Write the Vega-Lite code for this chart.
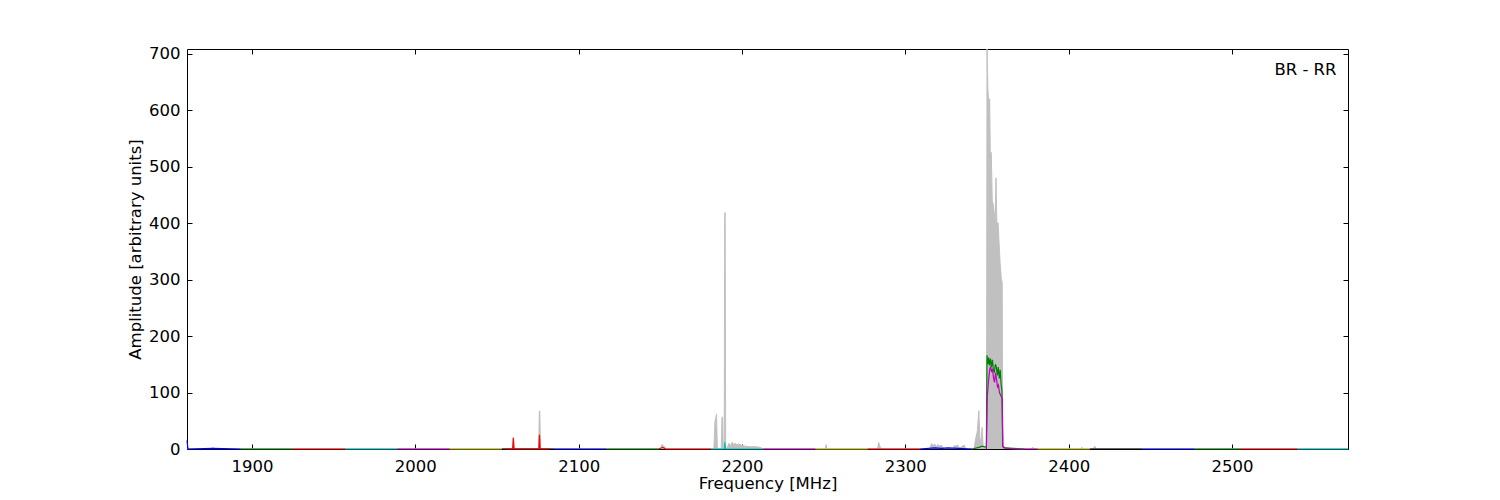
{
  "$schema": "https://vega.github.io/schema/vega-lite/v6.json",
  "autosize": {"type": "none"},
  "padding": {"left": 187, "top": 49, "right": 152, "bottom": 51},
  "width": 1161,
  "height": 400,
  "background": "white",
  "config": {
    "view": {"stroke": "black", "strokeWidth": 1},
    "font": "DejaVu Sans",
    "axis": {
      "labelFont": "DejaVu Sans", "titleFont": "DejaVu Sans",
      "labelFontSize": 16.5, "titleFontSize": 16.5, "titleFontWeight": "normal",
      "labelColor": "black", "titleColor": "black", "tickColor": "black",
      "grid": false, "domain": false, "format": "d"
    }
  },
  "datasets": {
    "env": [
      {"f": 1860.2, "a": 0}, {"f": 1875.5, "a": 0}, {"f": 1876, "a": 3}, {"f": 1876.5, "a": 0},
      {"f": 2059.5, "a": 0}, {"f": 2060, "a": 20}, {"f": 2060.5, "a": 0},
      {"f": 2075.5, "a": 0}, {"f": 2075.9, "a": 67}, {"f": 2076.2, "a": 67}, {"f": 2076.6, "a": 0},
      {"f": 2150, "a": 0}, {"f": 2151, "a": 8}, {"f": 2152, "a": 5}, {"f": 2153, "a": 3}, {"f": 2154, "a": 0},
      {"f": 2182.8, "a": 0}, {"f": 2183.4, "a": 48}, {"f": 2183.9, "a": 55}, {"f": 2184.4, "a": 62}, {"f": 2184.9, "a": 0},
      {"f": 2187.3, "a": 0}, {"f": 2187.7, "a": 55}, {"f": 2188.1, "a": 57}, {"f": 2188.5, "a": 0}, {"f": 2189.1, "a": 0}, {"f": 2189.4, "a": 418}, {"f": 2189.7, "a": 418}, {"f": 2190.0, "a": 0},
      {"f": 2191, "a": 3}, {"f": 2192, "a": 10}, {"f": 2193, "a": 6}, {"f": 2194, "a": 12}, {"f": 2195, "a": 8}, {"f": 2196, "a": 10}, {"f": 2197, "a": 7}, {"f": 2198, "a": 9}, {"f": 2200, "a": 6}, {"f": 2202, "a": 5}, {"f": 2205, "a": 4}, {"f": 2208, "a": 4}, {"f": 2211, "a": 3}, {"f": 2213, "a": 0},
      {"f": 2251, "a": 0}, {"f": 2251.5, "a": 8}, {"f": 2252, "a": 0},
      {"f": 2283, "a": 0}, {"f": 2283.6, "a": 12}, {"f": 2284.5, "a": 4}, {"f": 2285.5, "a": 0},
      {"f": 2315, "a": 0}, {"f": 2316, "a": 10}, {"f": 2317, "a": 6}, {"f": 2318, "a": 9}, {"f": 2319, "a": 4}, {"f": 2320, "a": 8}, {"f": 2321, "a": 5}, {"f": 2322, "a": 7}, {"f": 2323, "a": 3}, {"f": 2324, "a": 0},
      {"f": 2329, "a": 0}, {"f": 2330, "a": 6}, {"f": 2331, "a": 5}, {"f": 2332, "a": 7}, {"f": 2333, "a": 2}, {"f": 2334, "a": 3}, {"f": 2336, "a": 7}, {"f": 2337, "a": 0},
      {"f": 2342, "a": 0}, {"f": 2343, "a": 18}, {"f": 2344, "a": 30}, {"f": 2345, "a": 68}, {"f": 2345.6, "a": 20}, {"f": 2346.3, "a": 10}, {"f": 2347, "a": 38}, {"f": 2347.6, "a": 5}, {"f": 2348.5, "a": 3}, {"f": 2349.7, "a": 0},
      {"f": 2350.0, "a": 708}, {"f": 2350.5, "a": 640}, {"f": 2351.2, "a": 600}, {"f": 2351.6, "a": 620}, {"f": 2352.0, "a": 525}, {"f": 2352.6, "a": 525}, {"f": 2353.2, "a": 440}, {"f": 2354.0, "a": 430}, {"f": 2355.0, "a": 400}, {"f": 2355.5, "a": 480}, {"f": 2356.0, "a": 400}, {"f": 2356.8, "a": 400}, {"f": 2357.2, "a": 375}, {"f": 2358.0, "a": 330}, {"f": 2358.8, "a": 300}, {"f": 2359.3, "a": 295}, {"f": 2359.6, "a": 5}, {"f": 2361, "a": 3}, {"f": 2362, "a": 0},
      {"f": 2377, "a": 0}, {"f": 2378, "a": 3}, {"f": 2379, "a": 0},
      {"f": 2407, "a": 0}, {"f": 2408, "a": 3}, {"f": 2409, "a": 0},
      {"f": 2415, "a": 0}, {"f": 2416, "a": 5}, {"f": 2417, "a": 0},
      {"f": 2571, "a": 0}
    ],
    "lines": [
      {"s": "b1", "f": 1860.2, "a": 15}, {"s": "b1", "f": 1860.8, "a": 0}, {"s": "b1", "f": 1876, "a": 1}, {"s": "b1", "f": 1893, "a": 0},
      {"s": "g1", "f": 1893, "a": 0}, {"s": "g1", "f": 1925, "a": 0},
      {"s": "r1", "f": 1925, "a": 0}, {"s": "r1", "f": 1957, "a": 0},
      {"s": "c1", "f": 1957, "a": 0}, {"s": "c1", "f": 1989, "a": 0},
      {"s": "m1", "f": 1989, "a": 0}, {"s": "m1", "f": 2021, "a": 0},
      {"s": "y1", "f": 2021, "a": 0}, {"s": "y1", "f": 2053, "a": 0},
      {"s": "k1", "f": 2053, "a": 0}, {"s": "k1", "f": 2085, "a": 0},
      {"s": "r2", "f": 2055, "a": 0}, {"s": "r2", "f": 2059.6, "a": 0}, {"s": "r2", "f": 2060, "a": 20}, {"s": "r2", "f": 2060.4, "a": 0}, {"s": "r2", "f": 2075.6, "a": 0}, {"s": "r2", "f": 2076, "a": 25}, {"s": "r2", "f": 2076.4, "a": 0}, {"s": "r2", "f": 2082, "a": 0},
      {"s": "b2", "f": 2085, "a": 0}, {"s": "b2", "f": 2117, "a": 0},
      {"s": "g2", "f": 2117, "a": 0}, {"s": "g2", "f": 2149, "a": 0},
      {"s": "r3", "f": 2149, "a": 0}, {"s": "r3", "f": 2151.5, "a": 3}, {"s": "r3", "f": 2153, "a": 0}, {"s": "r3", "f": 2181, "a": 0},
      {"s": "c2", "f": 2181, "a": 0}, {"s": "c2", "f": 2189.2, "a": 0}, {"s": "c2", "f": 2189.5, "a": 12}, {"s": "c2", "f": 2189.9, "a": 0}, {"s": "c2", "f": 2213, "a": 0},
      {"s": "m2", "f": 2213, "a": 0}, {"s": "m2", "f": 2245, "a": 0},
      {"s": "y2", "f": 2245, "a": 0}, {"s": "y2", "f": 2277, "a": 0},
      {"s": "r4", "f": 2277, "a": 0}, {"s": "r4", "f": 2309, "a": 0},
      {"s": "b3", "f": 2309, "a": 0}, {"s": "b3", "f": 2318, "a": 2}, {"s": "b3", "f": 2322, "a": 1}, {"s": "b3", "f": 2326, "a": 2}, {"s": "b3", "f": 2341, "a": 0},
      {"s": "g3", "f": 2341, "a": 0}, {"s": "g3", "f": 2345, "a": 3}, {"s": "g3", "f": 2347, "a": 5}, {"s": "g3", "f": 2349.6, "a": 3},
      {"s": "g3", "f": 2350.0, "a": 166}, {"s": "g3", "f": 2350.5, "a": 150}, {"s": "g3", "f": 2351.0, "a": 162}, {"s": "g3", "f": 2351.5, "a": 148}, {"s": "g3", "f": 2352.1, "a": 160}, {"s": "g3", "f": 2352.7, "a": 145}, {"s": "g3", "f": 2353.3, "a": 158}, {"s": "g3", "f": 2353.9, "a": 140}, {"s": "g3", "f": 2354.5, "a": 135}, {"s": "g3", "f": 2355.1, "a": 150}, {"s": "g3", "f": 2355.7, "a": 145}, {"s": "g3", "f": 2356.3, "a": 130}, {"s": "g3", "f": 2356.9, "a": 145}, {"s": "g3", "f": 2357.5, "a": 125}, {"s": "g3", "f": 2358.1, "a": 140}, {"s": "g3", "f": 2358.6, "a": 115}, {"s": "g3", "f": 2359.1, "a": 105}, {"s": "g3", "f": 2359.6, "a": 5}, {"s": "g3", "f": 2360.5, "a": 2}, {"s": "g3", "f": 2373, "a": 0},
      {"s": "m3", "f": 2349.6, "a": 0}, {"s": "m3", "f": 2350.2, "a": 95}, {"s": "m3", "f": 2350.9, "a": 120}, {"s": "m3", "f": 2351.6, "a": 140}, {"s": "m3", "f": 2352.2, "a": 146}, {"s": "m3", "f": 2352.8, "a": 136}, {"s": "m3", "f": 2353.3, "a": 142}, {"s": "m3", "f": 2354.0, "a": 125}, {"s": "m3", "f": 2354.6, "a": 118}, {"s": "m3", "f": 2355.2, "a": 135}, {"s": "m3", "f": 2355.8, "a": 124}, {"s": "m3", "f": 2356.4, "a": 110}, {"s": "m3", "f": 2357.0, "a": 113}, {"s": "m3", "f": 2357.6, "a": 100}, {"s": "m3", "f": 2358.2, "a": 96}, {"s": "m3", "f": 2358.8, "a": 92}, {"s": "m3", "f": 2359.3, "a": 90}, {"s": "m3", "f": 2359.7, "a": 4}, {"s": "m3", "f": 2361, "a": 2}, {"s": "m3", "f": 2366, "a": 0}, {"s": "m3", "f": 2381, "a": 0},
      {"s": "y3", "f": 2381, "a": 0}, {"s": "y3", "f": 2413, "a": 0},
      {"s": "k2", "f": 2413, "a": 0}, {"s": "k2", "f": 2445, "a": 0},
      {"s": "b4", "f": 2445, "a": 0}, {"s": "b4", "f": 2477, "a": 0},
      {"s": "g4", "f": 2477, "a": 0}, {"s": "g4", "f": 2505, "a": 0},
      {"s": "r5", "f": 2505, "a": 0}, {"s": "r5", "f": 2540, "a": 0},
      {"s": "c3", "f": 2540, "a": 0}, {"s": "c3", "f": 2571, "a": 0}
    ],
    "label": [{"f": 2564, "a": 670, "t": "BR - RR"}]
  },
  "layer": [
    {
      "data": {"name": "env"},
      "mark": {"type": "area", "color": "#c0c0c0", "stroke": "#c0c0c0", "strokeWidth": 1, "clip": true},
      "encoding": {
        "x": {"field": "f", "type": "quantitative", "scale": {"domain": [1860.2, 2571], "nice": false, "zero": false},
              "axis": {"orient": "bottom", "values": [1900, 2000, 2100, 2200, 2300, 2400, 2500], "tickSize": -5, "labelPadding": 14, "title": "Frequency [MHz]", "titlePadding": 1}},
        "y": {"field": "a", "type": "quantitative", "scale": {"domain": [0, 708], "nice": false},
              "axis": {"orient": "left", "values": [0, 100, 200, 300, 400, 500, 600, 700], "tickSize": -5, "labelPadding": 12, "title": "Amplitude [arbitrary units]", "titlePadding": 5}}
      }
    },
    {
      "data": {"name": "lines"},
      "mark": {"type": "line", "strokeWidth": 1.2, "clip": false},
      "encoding": {
        "x": {"field": "f", "type": "quantitative",
              "axis": {"orient": "top", "values": [1900, 2000, 2100, 2200, 2300, 2400, 2500], "tickSize": -5, "labels": false, "title": null}},
        "y": {"field": "a", "type": "quantitative",
              "axis": {"orient": "right", "values": [0, 100, 200, 300, 400, 500, 600, 700], "tickSize": -5, "labels": false, "title": null}},
        "color": {"field": "s", "type": "nominal", "legend": null,
                  "scale": {"domain": ["b1", "g1", "r1", "c1", "m1", "y1", "k1", "r2", "b2", "g2", "r3", "c2", "m2", "y2", "r4", "b3", "g3", "m3", "y3", "k2", "b4", "g4", "r5", "c3"],
                            "range": ["#0000ff", "#008000", "#ff0000", "#00bfbf", "#bf00bf", "#bfbf00", "#000000", "#ff0000", "#0000ff", "#008000", "#ff0000", "#00bfbf", "#bf00bf", "#bfbf00", "#ff0000", "#0000ff", "#008000", "#bf00bf", "#bfbf00", "#000000", "#0000ff", "#008000", "#ff0000", "#00bfbf"]}},
        "order": {"field": "f", "type": "quantitative"}
      }
    },
    {
      "data": {"name": "label"},
      "mark": {"type": "text", "align": "right", "baseline": "middle", "fontSize": 16.5, "font": "DejaVu Sans", "color": "black"},
      "encoding": {
        "x": {"field": "f", "type": "quantitative", "axis": null},
        "y": {"field": "a", "type": "quantitative", "axis": null},
        "text": {"field": "t"}
      }
    }
  ],
  "resolve": {"axis": {"x": "independent", "y": "independent"}}
}
